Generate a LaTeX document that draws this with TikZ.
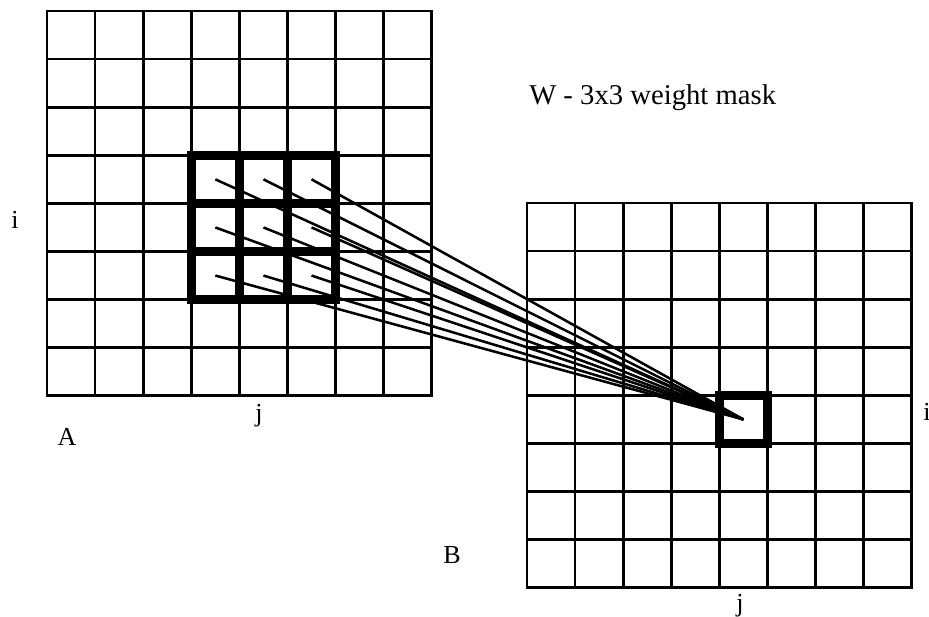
\documentclass[tikz,border=0pt]{standalone}
\usepackage{fontspec}
\setmainfont{Liberation Serif}
\usepackage{tikz}

\begin{document}
\begin{tikzpicture}[
  x=0.75pt, y=-0.75pt,
  gridline/.style={line width=2pt, draw=black, line cap=rect},
  maskline/.style={line width=7pt, draw=black, line join=miter},
  ray/.style={line width=1.9pt, draw=black},
  lbl/.style={font=\fontsize{19.5}{22}\selectfont, inner sep=0pt, anchor=base},
]
\def\cell{48.1}
\useasboundingbox (0,0) rectangle (929,617);

% input image A
\begin{scope}[shift={(47,11)}]
  \foreach \k in {0,...,8} {
    \draw[gridline] (\k*\cell,0) -- (\k*\cell,8*\cell);
    \draw[gridline] (0,\k*\cell) -- (8*\cell,\k*\cell);
  }
  \foreach \r in {3,4,5}
    \foreach \c in {3,4,5}
      \coordinate (a-\r-\c) at ({(\c+0.5)*\cell},{(\r+0.5)*\cell});
  \draw[maskline] (3*\cell,3*\cell) rectangle (6*\cell,6*\cell);
  \draw[maskline] (4*\cell,3*\cell) -- (4*\cell,6*\cell);
  \draw[maskline] (5*\cell,3*\cell) -- (5*\cell,6*\cell);
  \draw[maskline] (3*\cell,4*\cell) -- (6*\cell,4*\cell);
  \draw[maskline] (3*\cell,5*\cell) -- (6*\cell,5*\cell);
\end{scope}

% output image B
\begin{scope}[shift={(527,203)}]
  \foreach \k in {0,...,8} {
    \draw[gridline] (\k*\cell,0) -- (\k*\cell,8*\cell);
    \draw[gridline] (0,\k*\cell) -- (8*\cell,\k*\cell);
  }
  \coordinate (bcell) at (4.5*\cell,4.5*\cell);
  \draw[maskline] (4*\cell,4*\cell) rectangle (5*\cell,5*\cell);
\end{scope}

% mask weights onto one output pixel
\foreach \r in {3,4,5}
  \foreach \c in {3,4,5}
    \draw[ray] (a-\r-\c) -- (bcell);

\node[lbl, anchor=base west, font=\fontsize{21.5}{25}\selectfont] (wmask) at (529,104) {W - 3x3 weight mask};
\node[lbl] (ia) at (15,228) {i};
\node[lbl] (ja) at (259,421) {j};
\node[lbl] (aname) at (67,445) {A};
\node[lbl] (ib) at (927,420) {i};
\node[lbl] (jb) at (740,611) {j};
\node[lbl] (bname) at (452,563) {B};
\end{tikzpicture}
\end{document}
